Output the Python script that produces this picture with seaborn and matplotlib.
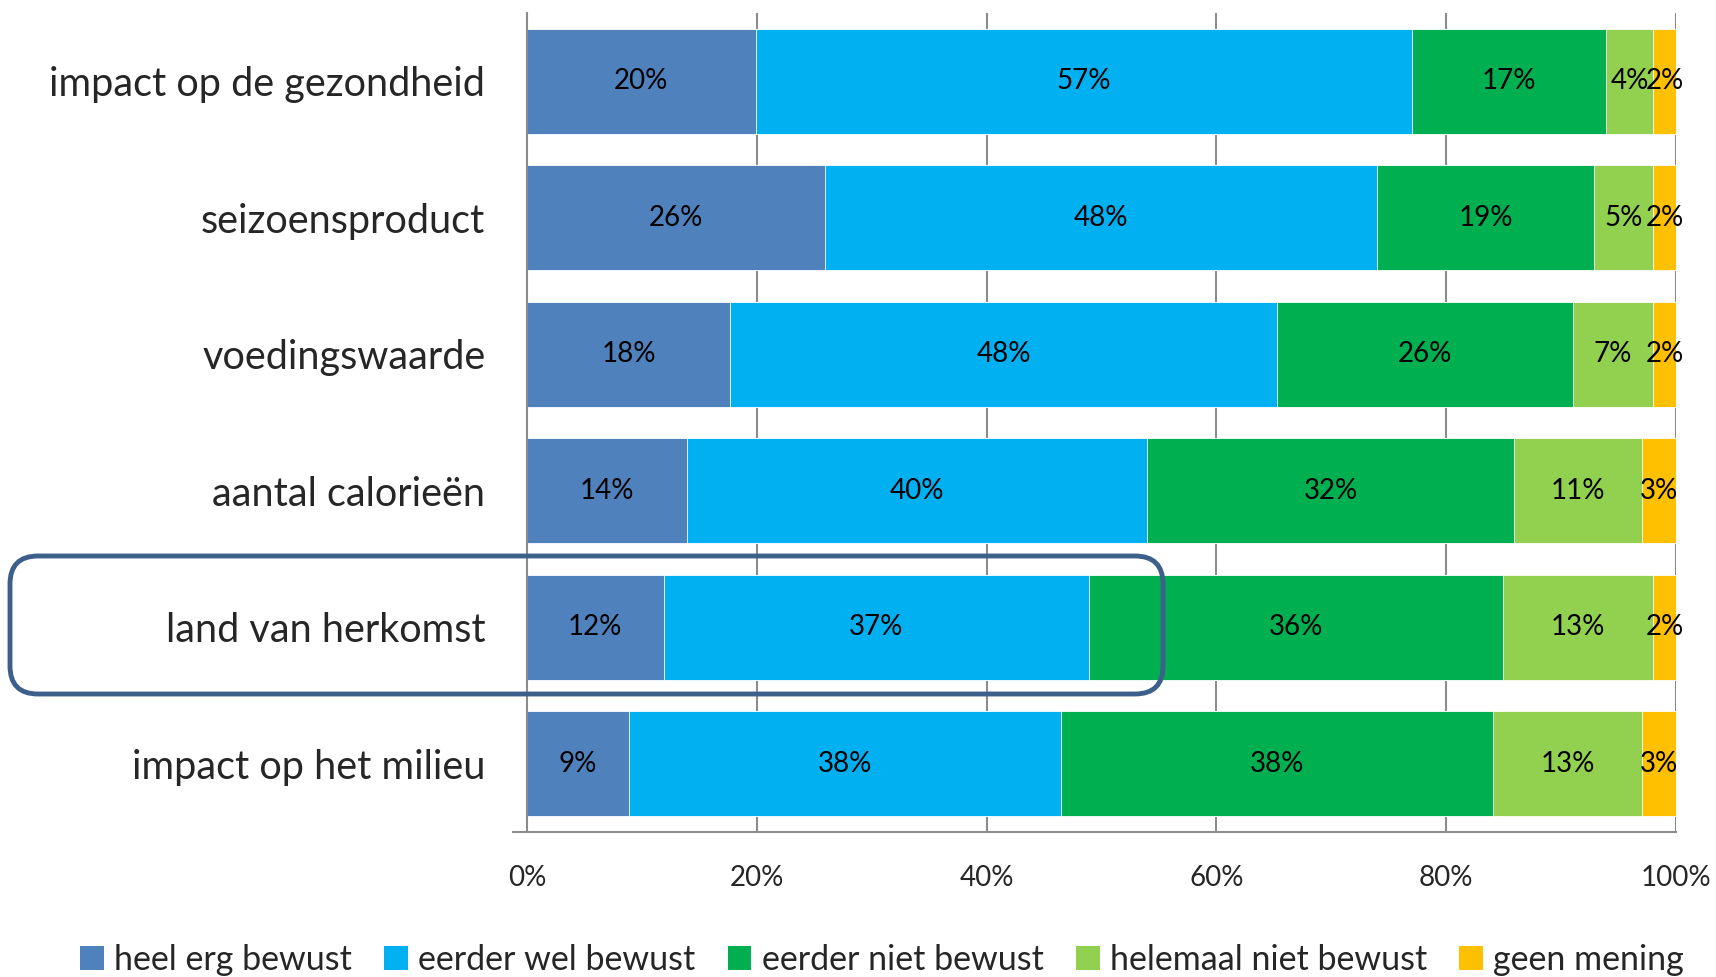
import numpy as np
import pandas as pd
import matplotlib.pyplot as plt
import matplotlib.transforms as mtransforms
from matplotlib.patches import FancyBboxPatch, Patch
import seaborn as sns

# data (shares in %)
categories = ['impact op de gezondheid', 'seizoensproduct', 'voedingswaarde',
              'aantal calorieën', 'land van herkomst', 'impact op het milieu']
series = ['heel erg bewust', 'eerder wel bewust', 'eerder niet bewust',
          'helemaal niet bewust', 'geen mening']
heel_erg = [19.9, 25.9, 17.7, 13.9, 11.9, 8.9]
eerder_wel = [57.1, 48.1, 47.6, 40.1, 37.0, 37.6]
eerder_niet = [16.9, 18.9, 25.7, 31.9, 36.0, 37.6]
helemaal_niet = [4.1, 5.1, 7.0, 11.1, 13.1, 12.9]
geen_mening = [2.0, 2.0, 2.0, 3.0, 2.0, 3.0]
colors = ['#4F81BD', '#00B0F0', '#00B050', '#92D050', '#FFC000']
x_ticks = [0, 20, 40, 60, 80, 100]

df = pd.DataFrame({'categorie': categories})
for name, vals in zip(series, [heel_erg, eerder_wel, eerder_niet, helemaal_niet, geen_mening]):
    df[name] = vals
cum = df[series].cumsum(axis=1)

sns.set_style('white')
plt.rcParams['font.family'] = ['Lato', 'DejaVu Sans']

fig = plt.figure(figsize=(17.16, 9.77), dpi=100)
ax = fig.add_axes([527 / 1716, 1 - 832 / 977, (1676 - 527) / 1716, (832 - 13) / 977])

# grid behind the bars
for x in x_ticks[1:]:
    ax.axvline(x, color='#8c8c8c', lw=1.5, zorder=0)

# stacked bars: draw cumulative totals from the largest down
for i in range(len(series) - 1, -1, -1):
    sns.barplot(x=cum[series[i]], y=df['categorie'], orient='h', color=colors[i],
                width=0.77, ax=ax, edgecolor='white', linewidth=0.6, saturation=1, zorder=2)

# segment labels
for r in range(len(categories)):
    left = 0
    for s in series:
        v = df.loc[r, s]
        ax.text(left + v / 2, r, f'{round(v):.0f}%', ha='center', va='center',
                fontsize=20, color='black', zorder=5)
        left += v

ax.set_xlim(0, 100)
ax.set_ylim(5.5, -0.5)
ax.set_xticks(x_ticks)
ax.set_xticklabels([f'{t}%' for t in x_ticks], fontsize=20)
ax.set_xlabel('')
ax.set_ylabel('')
ax.tick_params(axis='y', which='major', length=0, pad=30, labelsize=28.5)
ax.set_yticks(np.arange(-0.5, 6, 1), minor=True)
ax.tick_params(axis='y', which='minor', length=12, width=1.5, color='#8c8c8c', direction='out')
ax.tick_params(axis='x', length=10, width=1.5, color='#8c8c8c', direction='out', pad=14)
for side in ['top', 'right']:
    ax.spines[side].set_visible(False)
for side in ['left', 'bottom']:
    ax.spines[side].set_color('#8c8c8c')
    ax.spines[side].set_linewidth(1.5)
ax.spines['bottom'].set_bounds(-1.2, 100)
ax.set_xlim(0, 100)
ax.grid(False)

# rounded highlight box around "land van herkomst"
box = FancyBboxPatch((10, 977 - 694), 1153, 138, boxstyle='round,pad=0,rounding_size=28',
                     transform=mtransforms.IdentityTransform(), fill=False,
                     edgecolor='#3D5F8C', linewidth=3.5, zorder=10)
fig.patches.append(box)

handles = [Patch(facecolor=c, edgecolor='none') for c in colors]
fig.legend(handles, series, loc='center', bbox_to_anchor=(0.514, 1 - 960 / 977), ncol=5,
           frameon=False, fontsize=24.5, handlelength=0.7, handleheight=0.7,
           handletextpad=0.3, columnspacing=0.95)

fig.savefig('out.png', dpi=100)
